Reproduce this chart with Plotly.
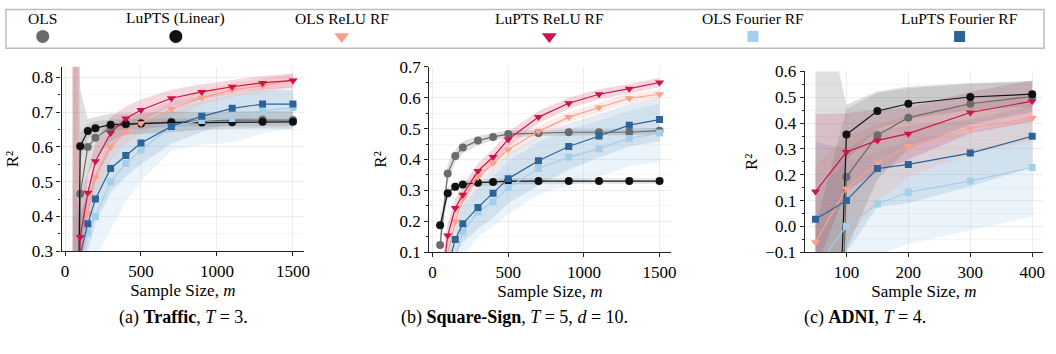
import plotly.graph_objects as go

# ---------------- data ----------------
SERIES = ["OLS", "LuPTS (Linear)", "OLS ReLU RF", "LuPTS ReLU RF", "OLS Fourier RF", "LuPTS Fourier RF"]

# (a) Traffic
traffic_m = [50, 100, 150, 200, 300, 400, 500, 700, 900, 1100, 1300, 1500]
traffic_ols = [-2.0, 0.465, 0.600, 0.626, 0.656, 0.665, 0.668, 0.672, 0.675, 0.677, 0.678, 0.677]
traffic_ols_sd = [4.0, 0.30, 0.08, 0.06, 0.04, 0.03, 0.03, 0.03, 0.025, 0.025, 0.025, 0.025]
traffic_lupts = [-1.5, 0.602, 0.646, 0.654, 0.664, 0.666, 0.667, 0.670, 0.670, 0.671, 0.672, 0.672]
traffic_lupts_sd = [1.0, 0.04, 0.02, 0.02, 0.015, 0.015, 0.015, 0.012, 0.012, 0.012, 0.012, 0.012]
traffic_ols_relu = [-0.5, 0.27, 0.409, 0.513, 0.600, 0.643, 0.668, 0.709, 0.741, 0.764, 0.776, 0.791]
traffic_ols_relu_sd = [2.0, 0.12, 0.06, 0.05, 0.04, 0.035, 0.03, 0.025, 0.02, 0.02, 0.02, 0.02]
traffic_lupts_relu = [-0.5, 0.341, 0.468, 0.559, 0.640, 0.682, 0.706, 0.740, 0.758, 0.773, 0.784, 0.791]
traffic_lupts_relu_sd = [4.0, 0.12, 0.06, 0.05, 0.045, 0.035, 0.03, 0.025, 0.022, 0.02, 0.02, 0.02]
traffic_ols_four = [-0.6, 0.26, 0.352, 0.400, 0.500, 0.552, 0.591, 0.659, 0.676, 0.682, 0.704, 0.713]
traffic_ols_four_sd = [1.0, 0.15, 0.13, 0.12, 0.14, 0.11, 0.09, 0.07, 0.07, 0.07, 0.065, 0.06]
traffic_lupts_four = [-0.5, 0.29, 0.379, 0.450, 0.538, 0.575, 0.611, 0.659, 0.688, 0.711, 0.723, 0.723]
traffic_lupts_four_sd = [1.0, 0.12, 0.08, 0.07, 0.07, 0.06, 0.06, 0.05, 0.045, 0.04, 0.04, 0.04]

# (b) Square-Sign
square_m = [50, 100, 150, 200, 300, 400, 500, 700, 900, 1100, 1300, 1500]
square_ols = [0.123, 0.355, 0.411, 0.439, 0.461, 0.473, 0.482, 0.486, 0.488, 0.488, 0.488, 0.493]
square_ols_sd = [0.03, 0.03, 0.02, 0.02, 0.015, 0.012, 0.012, 0.01, 0.01, 0.01, 0.01, 0.01]
square_lupts = [0.187, 0.291, 0.312, 0.319, 0.325, 0.327, 0.330, 0.330, 0.330, 0.330, 0.330, 0.330]
square_lupts_sd = [0.04, 0.02, 0.015, 0.012, 0.01, 0.01, 0.01, 0.009, 0.009, 0.009, 0.009, 0.009]
square_ols_relu = [-0.2, 0.095, 0.199, 0.274, 0.343, 0.388, 0.432, 0.491, 0.537, 0.568, 0.598, 0.611]
square_ols_relu_sd = [0.1, 0.05, 0.03, 0.03, 0.025, 0.02, 0.02, 0.018, 0.016, 0.015, 0.015, 0.015]
square_lupts_relu = [-0.05, 0.154, 0.243, 0.286, 0.363, 0.408, 0.465, 0.537, 0.582, 0.611, 0.629, 0.649]
square_lupts_relu_sd = [0.08, 0.04, 0.03, 0.03, 0.025, 0.025, 0.025, 0.02, 0.018, 0.016, 0.015, 0.015]
square_ols_four = [-0.3, 0.0, 0.08, 0.166, 0.230, 0.263, 0.309, 0.371, 0.407, 0.435, 0.468, 0.486]
square_ols_four_sd = [0.1, 0.08, 0.08, 0.08, 0.08, 0.08, 0.085, 0.085, 0.09, 0.09, 0.09, 0.095]
square_lupts_four = [-0.2, 0.05, 0.141, 0.192, 0.245, 0.291, 0.338, 0.396, 0.442, 0.476, 0.511, 0.529]
square_lupts_four_sd = [0.1, 0.06, 0.05, 0.06, 0.07, 0.08, 0.08, 0.08, 0.075, 0.07, 0.07, 0.07]

# (c) ADNI
adni_m = [50, 100, 150, 200, 300, 400]
adni_ols = [-4.0, 0.191, 0.353, 0.421, 0.475, 0.503]
adni_ols_sd = [5.0, 0.28, 0.17, 0.12, 0.08, 0.06]
adni_lupts = [-3.0, 0.356, 0.447, 0.475, 0.501, 0.512]
adni_lupts_sd = [3.0, 0.1, 0.07, 0.06, 0.05, 0.05]
adni_ols_relu = [-0.061, 0.147, 0.245, 0.310, 0.380, 0.420]
adni_ols_relu_sd = [0.3, 0.2, 0.15, 0.12, 0.1, 0.09]
adni_lupts_relu = [0.135, 0.288, 0.333, 0.359, 0.441, 0.485]
adni_lupts_relu_sd = [0.3, 0.15, 0.12, 0.1, 0.08, 0.08]
adni_ols_four = [-0.165, 0.001, 0.087, 0.132, 0.176, 0.228]
adni_ols_four_sd = [0.3, 0.25, 0.2, 0.2, 0.19, 0.19]
adni_lupts_four = [0.028, 0.100, 0.224, 0.240, 0.284, 0.349]
adni_lupts_four_sd = [0.3, 0.2, 0.15, 0.15, 0.13, 0.12]

CAPTIONS = ["(a) <b>Traffic</b>, <i>T</i> = 3.",
            "(b) <b>Square-Sign</b>, <i>T</i> = 5, <i>d</i> = 10.",
            "(c) <b>ADNI</b>, <i>T</i> = 4."]

# ---------------- styles ----------------
COLORS = ["#6b6b6b", "#111111", "#fba08a", "#cc1449", "#a3cfeb", "#2c6399"]
BANDS = ["rgba(110,110,110,0.22)", "rgba(60,60,60,0.13)", "rgba(251,160,138,0.20)",
         "rgba(204,20,73,0.17)", "rgba(163,207,235,0.22)", "rgba(44,99,153,0.13)"]
SYMBOLS = ["circle", "circle", "triangle-down", "triangle-down", "square", "square"]
MSIZE = [8, 8, 8, 8, 7, 7]
FONT = "Liberation Serif, Times New Roman, serif"
W, H = 1056, 354

panels = [
    (traffic_m, [(traffic_ols, traffic_ols_sd), (traffic_lupts, traffic_lupts_sd),
                 (traffic_ols_relu, traffic_ols_relu_sd), (traffic_lupts_relu, traffic_lupts_relu_sd),
                 (traffic_ols_four, traffic_ols_four_sd), (traffic_lupts_four, traffic_lupts_four_sd)]),
    (square_m, [(square_ols, square_ols_sd), (square_lupts, square_lupts_sd),
                (square_ols_relu, square_ols_relu_sd), (square_lupts_relu, square_lupts_relu_sd),
                (square_ols_four, square_ols_four_sd), (square_lupts_four, square_lupts_four_sd)]),
    (adni_m, [(adni_ols, adni_ols_sd), (adni_lupts, adni_lupts_sd),
              (adni_ols_relu, adni_ols_relu_sd), (adni_lupts_relu, adni_lupts_relu_sd),
              (adni_ols_four, adni_ols_four_sd), (adni_lupts_four, adni_lupts_four_sd)]),
]

# pixel boxes of plot areas (left, right, top, bottom)
boxes = [(61, 305, 61, 256), (431, 674, 61, 257), (809, 1049, 66, 257)]
xranges = [[-22.5, 1572.5], [-22.5, 1572.5], [32.5, 417.5]]
yranges = [[0.3, 0.8305], [0.1, 0.7], [-0.1, 0.6]]
xticks = [[0, 500, 1000, 1500], [0, 500, 1000, 1500], [100, 200, 300, 400]]
ystandoff = [8, 8, 3]

fig = go.Figure()
order = [4, 5, 2, 3, 0, 1]
for p, (m, series) in enumerate(panels):
    ax = "" if p == 0 else str(p + 1)
    xa, ya = "x" + ax, "y" + ax
    for i in order:
        mean, sd = series[i]
        lo = [a - b for a, b in zip(mean, sd)]
        hi = [a + b for a, b in zip(mean, sd)]
        fig.add_trace(go.Scatter(x=m + m[::-1], y=hi + lo[::-1], fill="toself",
                                 fillcolor=BANDS[i], line=dict(width=0), mode="lines",
                                 hoverinfo="skip", showlegend=False, xaxis=xa, yaxis=ya))
    for i in range(6):
        mean, sd = series[i]
        fig.add_trace(go.Scatter(x=m, y=mean, mode="lines+markers", name=SERIES[i],
                                 line=dict(color=COLORS[i], width=1.2),
                                 marker=dict(symbol=SYMBOLS[i], size=MSIZE[i], color=COLORS[i],
                                             line=dict(width=0)),
                                 showlegend=False, cliponaxis=True, xaxis=xa, yaxis=ya))

axis_common = dict(showline=True, linecolor="#222222", linewidth=1.2, ticks="outside",
                   ticklen=4, tickwidth=1, tickcolor="#222222", showgrid=True,
                   gridcolor="rgba(0,0,0,0.07)", gridwidth=1, zeroline=False,
                   ticklabeloverflow="allow",
                   tickfont=dict(family=FONT, size=17, color="black"), mirror=False)
layout = {}
for p in range(3):
    l, r, t, b = boxes[p]
    ax = "" if p == 0 else str(p + 1)
    layout["xaxis" + ax] = dict(axis_common, domain=[l / W, r / W], range=xranges[p],
                                tickvals=xticks[p], anchor="y" + ax,
                                title=dict(text="Sample Size, <i>m</i>", standoff=2,
                                           font=dict(family=FONT, size=17, color="black")))
    layout["yaxis" + ax] = dict(axis_common, domain=[1 - b / H, 1 - t / H], range=yranges[p],
                                dtick=0.1, tick0=0, anchor="x" + ax, tickformat=".1f",
                                minor=dict(ticks="outside", ticklen=2, dtick=0.05, tick0=0,
                                           tickcolor="#222222", showgrid=True,
                                           gridcolor="rgba(0,0,0,0.035)"),
                                title=dict(text="R²", standoff=ystandoff[p],
                                           font=dict(family=FONT, size=17, color="black")))

# custom legend: text above marker
LEG_X = [42, 176, 343, 552, 757, 965]
layout["xaxis4"] = dict(domain=[0, 1], range=[0, W], visible=False, anchor="y4", fixedrange=True)
layout["yaxis4"] = dict(domain=[1 - 42 / H, 1], range=[42, 0], visible=False, anchor="x4", fixedrange=True)
for i in range(6):
    fig.add_trace(go.Scatter(x=[LEG_X[i]], y=[29], mode="markers", xaxis="x4", yaxis="y4",
                             marker=dict(symbol=SYMBOLS[i], size=13 if i < 4 else 11,
                                         color=COLORS[i], line=dict(width=0)),
                             showlegend=False, hoverinfo="skip"))

annotations = []
for i in range(6):
    annotations.append(dict(x=LEG_X[i] / W, y=1 - 10 / H, xref="paper", yref="paper",
                            text=SERIES[i], showarrow=False, xanchor="center", yanchor="middle",
                            font=dict(family=FONT, size=15.5, color="black")))
CAP_X = [184, 517, 870]
for p in range(3):
    annotations.append(dict(x=CAP_X[p] / W, y=1 - 326 / H, xref="paper", yref="paper",
                            text=CAPTIONS[p], showarrow=False, xanchor="center", yanchor="middle",
                            font=dict(family=FONT, size=18, color="black")))

fig.update_layout(**layout)
fig.update_layout(
    width=W, height=H, margin=dict(l=0, r=0, t=0, b=0),
    paper_bgcolor="white", plot_bgcolor="white", showlegend=False,
    annotations=annotations,
    shapes=[dict(type="rect", xref="paper", yref="paper", x0=5 / W, x1=1050 / W,
                 y0=1 - 41.5 / H, y1=1 - 0.5 / H, line=dict(color="#bdbdbd", width=1.5))],
    font=dict(family=FONT),
)
fig.write_html("out.html", config={"displayModeBar": False},
               post_script="document.body.style.margin='0';document.body.style.overflow='hidden';")
